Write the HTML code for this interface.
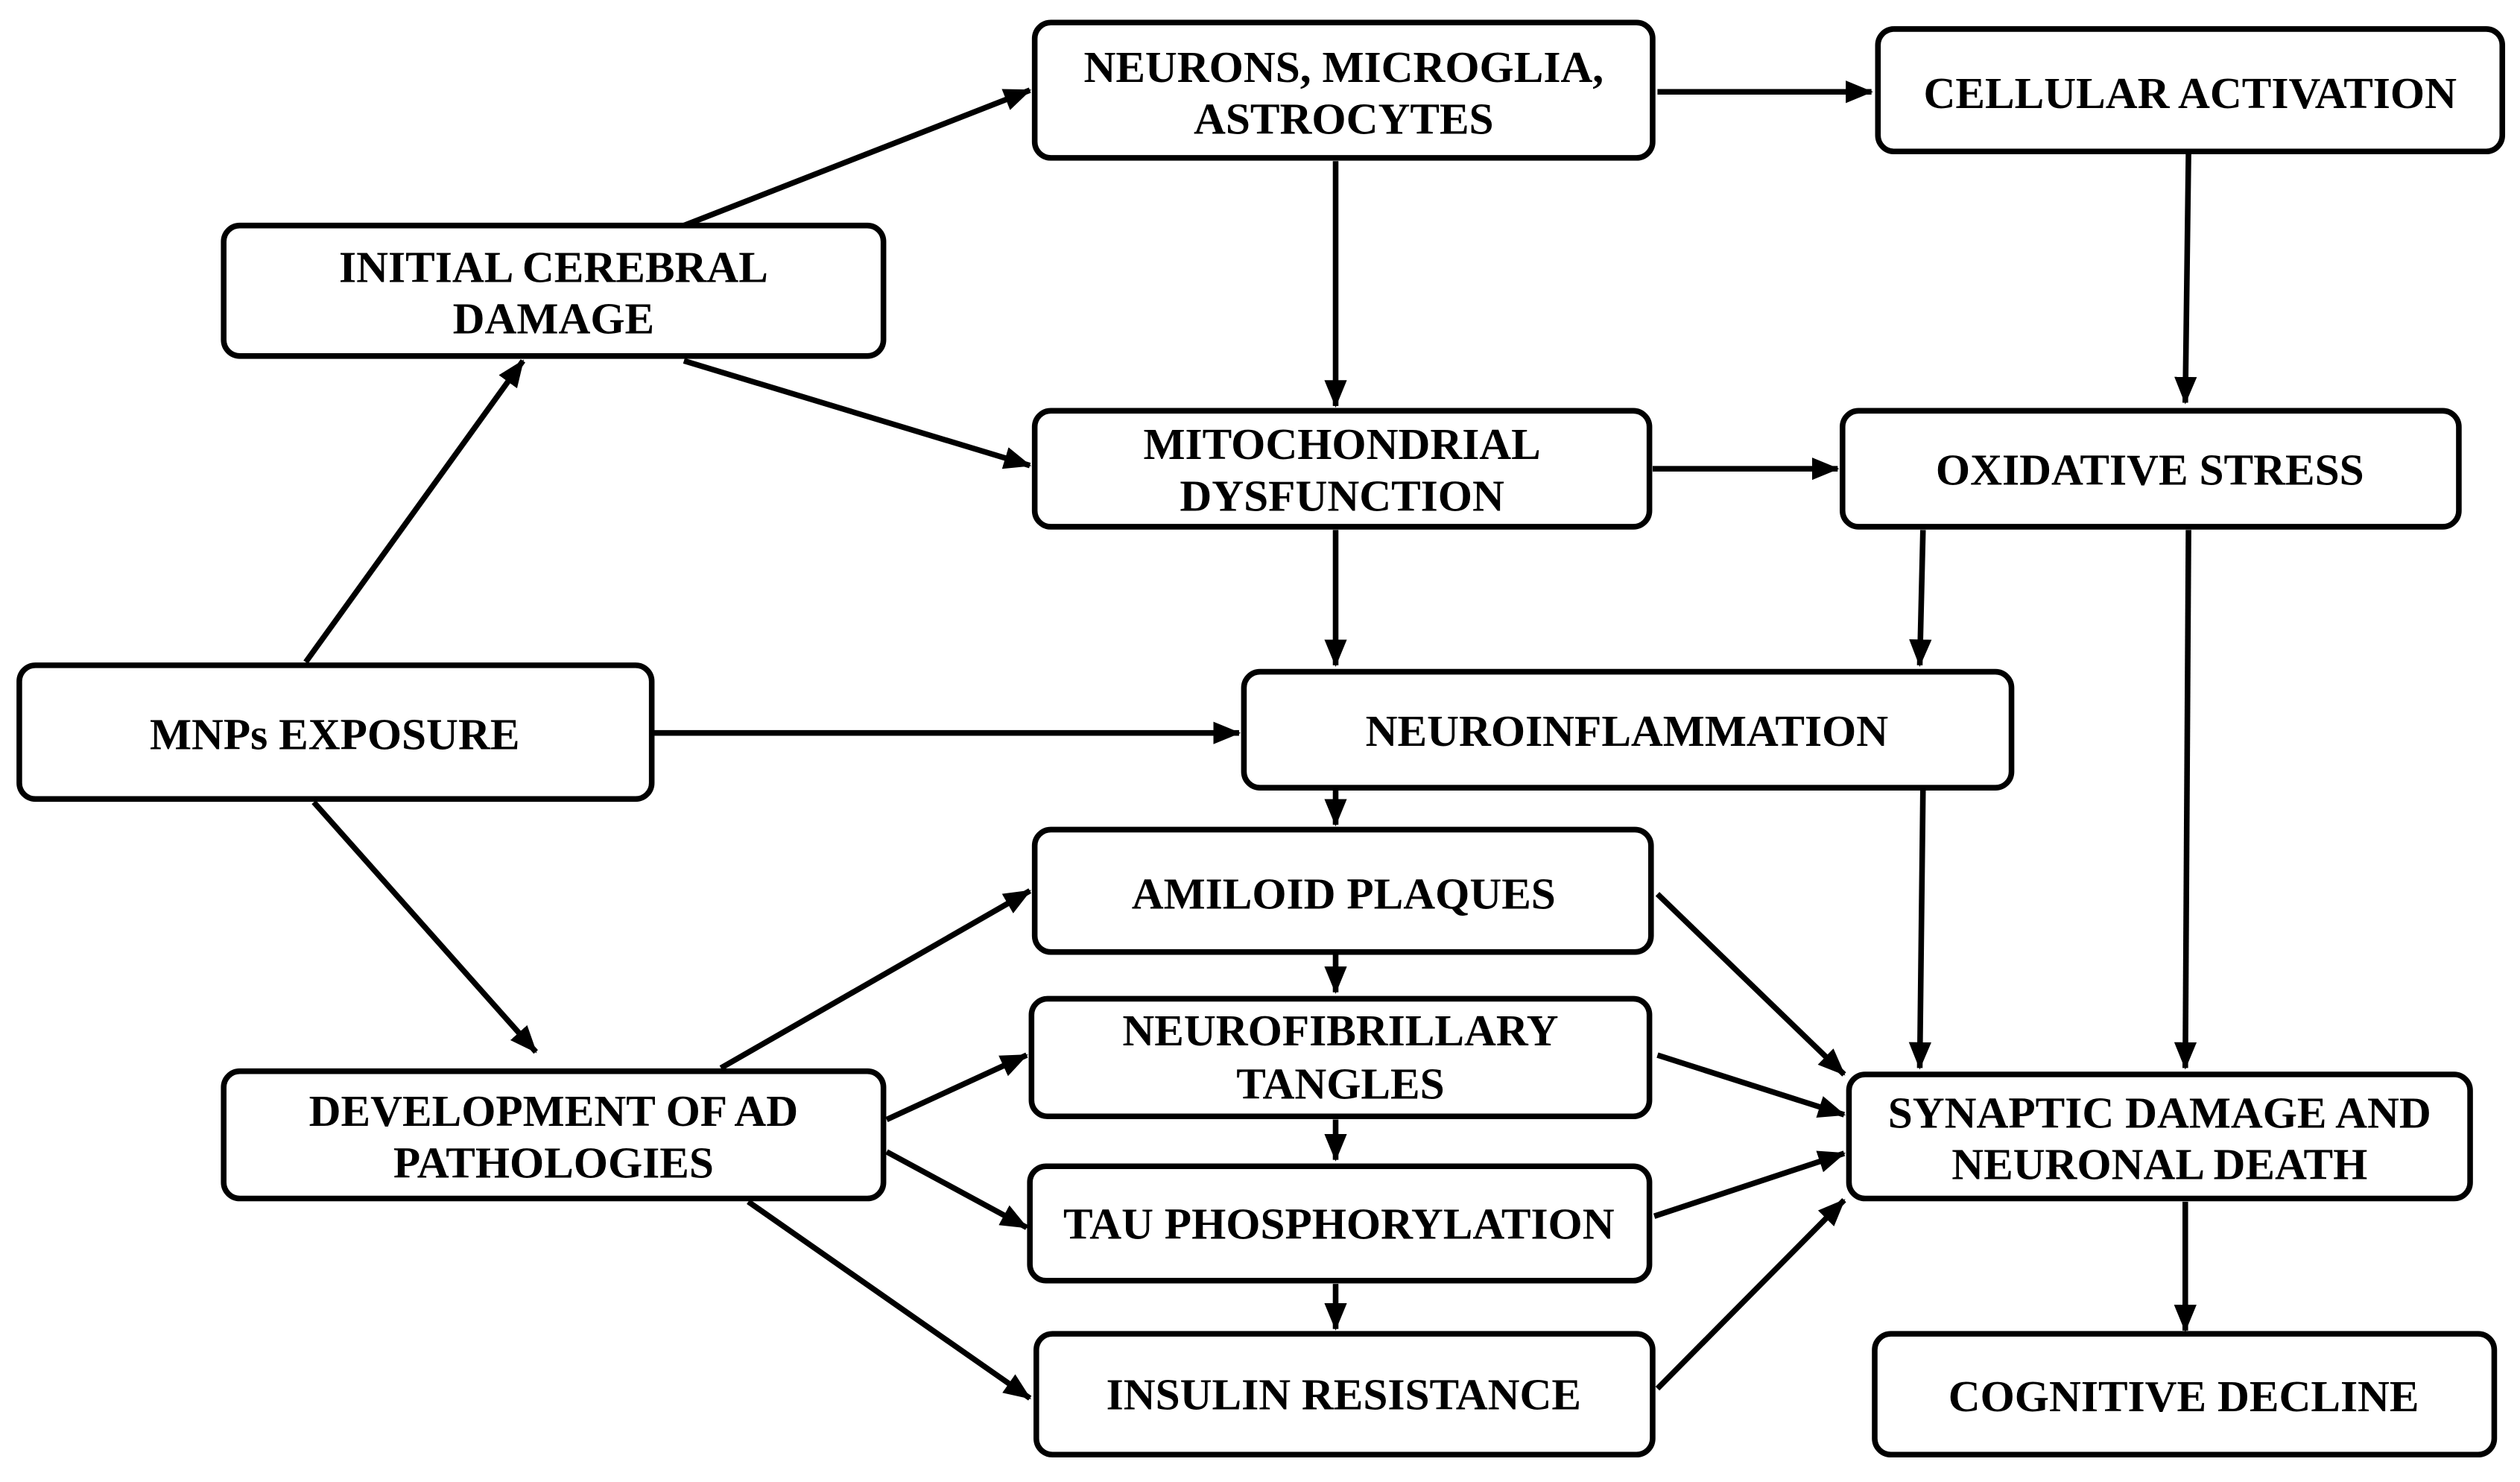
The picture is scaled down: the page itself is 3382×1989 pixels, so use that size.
<!DOCTYPE html>
<html><head><style>html,body{margin:0;padding:0;background:#fff}svg{display:block}</style></head>
<body>
<svg width="3382" height="1989" viewBox="0 0 1566 920" preserveAspectRatio="none" xmlns="http://www.w3.org/2000/svg">
<defs><marker id="a" markerUnits="userSpaceOnUse" markerWidth="18" markerHeight="14" refX="16" refY="7" orient="auto"><path d="M0,0 L17,7 L0,14 Z" fill="#000"/></marker></defs>
<g fill="#fff" stroke="#000" stroke-width="3.5">
<rect x="643" y="14" width="384" height="84" rx="10"/>
<rect x="1167" y="18" width="388" height="76" rx="10"/>
<rect x="139" y="140" width="410" height="81" rx="10"/>
<rect x="643" y="255" width="382" height="72" rx="10"/>
<rect x="1145" y="255" width="383" height="72" rx="10"/>
<rect x="12" y="413" width="393" height="83" rx="10"/>
<rect x="773" y="417" width="477" height="72" rx="10"/>
<rect x="643" y="515" width="383" height="76" rx="10"/>
<rect x="641" y="620" width="384" height="73" rx="10"/>
<rect x="139" y="665" width="410" height="79" rx="10"/>
<rect x="1149" y="667" width="386" height="77" rx="10"/>
<rect x="640" y="724" width="385" height="71" rx="10"/>
<rect x="644" y="828" width="383" height="75" rx="10"/>
<rect x="1165" y="828" width="385" height="75" rx="10"/>
</g>
<g stroke="#000" stroke-width="3.5" marker-end="url(#a)" fill="none">
<line x1="425" y1="140" x2="640" y2="56"/>
<line x1="425" y1="224" x2="640" y2="289"/>
<line x1="190" y1="411" x2="325" y2="224"/>
<line x1="405" y1="455" x2="770" y2="455"/>
<line x1="195" y1="498" x2="333" y2="653"/>
<line x1="1030" y1="57" x2="1163" y2="57"/>
<line x1="830" y1="100" x2="830" y2="252"/>
<line x1="1360" y1="95" x2="1358" y2="250"/>
<line x1="1027" y1="291" x2="1142" y2="291"/>
<line x1="830" y1="329" x2="830" y2="413"/>
<line x1="1195" y1="329" x2="1193" y2="413"/>
<line x1="1360" y1="329" x2="1358" y2="663"/>
<line x1="1195" y1="490" x2="1193" y2="663"/>
<line x1="830" y1="490" x2="830" y2="512"/>
<line x1="830" y1="592" x2="830" y2="616"/>
<line x1="830" y1="695" x2="830" y2="720"/>
<line x1="830" y1="797" x2="830" y2="825"/>
<line x1="448" y1="663" x2="640" y2="553"/>
<line x1="551" y1="695" x2="638" y2="655"/>
<line x1="551" y1="715" x2="638" y2="762"/>
<line x1="465" y1="746" x2="640" y2="868"/>
<line x1="1030" y1="555" x2="1146" y2="667"/>
<line x1="1030" y1="655" x2="1146" y2="692"/>
<line x1="1028" y1="755" x2="1146" y2="716"/>
<line x1="1030" y1="862" x2="1146" y2="745"/>
<line x1="1358" y1="746" x2="1358" y2="826"/>
</g>
<g font-family="Liberation Serif, Times New Roman, serif" font-weight="bold" font-size="27.5" text-anchor="middle" fill="#000">
<text x="835" y="51">NEURONS, MICROGLIA,</text><text x="835" y="83">ASTROCYTES</text>
<text x="1361" y="67">CELLULAR ACTIVATION</text>
<text x="344" y="175">INITIAL CEREBRAL</text><text x="344" y="207">DAMAGE</text>
<text x="834" y="285">MITOCHONDRIAL</text><text x="834" y="317">DYSFUNCTION</text>
<text x="1336" y="301">OXIDATIVE STRESS</text>
<text x="208" y="465">MNPs EXPOSURE</text>
<text x="1011" y="463">NEUROINFLAMMATION</text>
<text x="835" y="564">AMILOID PLAQUES</text>
<text x="833" y="649">NEUROFIBRILLARY</text><text x="833" y="682">TANGLES</text>
<text x="344" y="699">DEVELOPMENT OF AD</text><text x="344" y="731">PATHOLOGIES</text>
<text x="1342" y="700">SYNAPTIC DAMAGE AND</text><text x="1342" y="732">NEURONAL DEATH</text>
<text x="832" y="769">TAU PHOSPHORYLATION</text>
<text x="835" y="875">INSULIN RESISTANCE</text>
<text x="1357" y="876">COGNITIVE DECLINE</text>
</g>
</svg>
</body></html>
